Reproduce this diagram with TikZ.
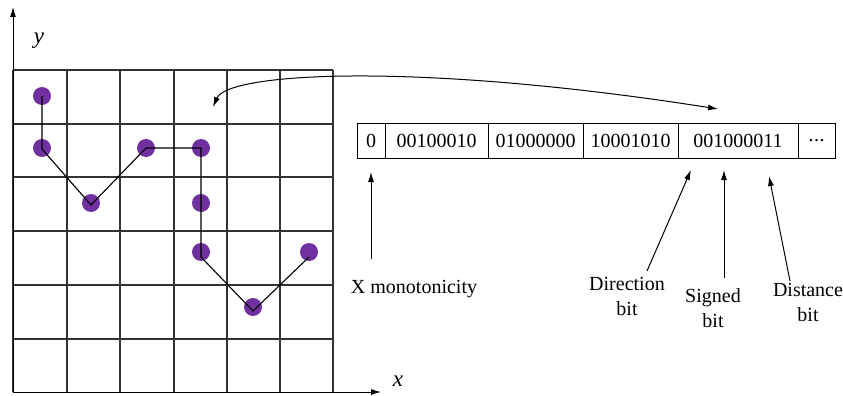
\documentclass[tikz,border=0pt]{standalone}
\usepackage{fontspec}
\setmainfont{Liberation Serif}
\usetikzlibrary{arrows.meta}
\begin{document}
\begin{tikzpicture}[x=1pt,y=-1pt,
  gridline/.style={line width=1.2pt,draw=black!80},
  dot/.style={circle,fill=dotpurple,inner sep=0pt,minimum size=18pt},
  bitbox/.style={draw,line width=1pt,minimum height=35pt,inner sep=0pt,font=\fontsize{20}{22}\selectfont},
  lbl/.style={align=center,inner sep=0pt,font=\fontsize{20}{25}\selectfont},
  arr/.style={line width=1pt,-{Latex[length=10pt,width=6pt]}},
  route/.style={line width=1.1pt}]
\definecolor{dotpurple}{HTML}{7030A0}
\useasboundingbox (0,0) rectangle (843,396);
% grid
\foreach \xx in {13,67,120,174,227,280,333} \draw[gridline] (\xx,70) -- (\xx,392);
\foreach \yy in {70,124,177,231,285,339} \draw[gridline] (13,\yy) -- (333,\yy);
% axes
\coordinate (o) at (13,392);
\coordinate (ytip) at (13,7);
\coordinate (xtip) at (381,392);
\draw[arr] (o) -- (ytip);
\draw[arr] (o) -- (xtip);
\node[lbl,font=\fontsize{23}{24}\selectfont\itshape] (ylab) at (39,41) {y};
\node[lbl,font=\fontsize{23}{24}\selectfont\itshape] (xlab) at (398,381) {x};
% dots
\node[dot] (d1) at (42,96) {};
\node[dot] (d2) at (42,148) {};
\node[dot] (d3) at (91,203) {};
\node[dot] (d4) at (146,148) {};
\node[dot] (d5) at (201,148) {};
\node[dot] (d6) at (201,203) {};
\node[dot] (d7) at (201,252) {};
\node[dot] (d8) at (253,307) {};
\node[dot] (d9) at (309,252) {};
\draw[route] (d1.center) -- ([yshift=-1pt]d2.center) -- ([yshift=-2pt]d3.center) -- ([yshift=0pt]d4.center) -- (d5.center) -- ([yshift=-5pt]d7.center) -- ([yshift=-4pt]d8.center) -- ([yshift=-5pt]d9.center);
% bit boxes
\node[bitbox,minimum width=28pt] (b0) at (371,140.5) {0};
\node[bitbox,minimum width=103pt] (b1) at (436.5,140.5) {00100010};
\node[bitbox,minimum width=95pt] (b2) at (535.5,140.5) {01000000};
\node[bitbox,minimum width=95pt] (b3) at (630.5,140.5) {10001010};
\node[bitbox,minimum width=120pt] (b4) at (738,140.5) {001000011};
\node[bitbox,minimum width=37pt] (b5) at (816.5,140.5) {.\kern0.5pt.\kern0.5pt.};
% curved arrow
\coordinate (ca) at (213,107);
\coordinate (cb) at (718,109);
\draw[line width=1pt,{Latex[length=10pt,width=6pt]}-{Latex[length=10pt,width=6pt]}] (ca) .. controls (228,72) and (420,62) .. (cb);
% labels
\node[lbl] (lx) at (414,289) {X monotonicity};
\node[lbl] (ld) at (627,296) {Direction\\bit};
\node[lbl] (ls) at (713,308) {Signed\\bit};
\node[lbl] (lt) at (808,302) {Distance\\bit};
\coordinate (t0) at (371,172);
\coordinate (td) at (691,170);
\coordinate (ts) at (724,170);
\coordinate (tt) at (769,176);
\draw[arr] (371,259) -- (t0);
\draw[arr] (647,271) -- (td);
\draw[arr] (724,278) -- (ts);
\draw[arr] (790,281) -- (tt);
\end{tikzpicture}
\end{document}
